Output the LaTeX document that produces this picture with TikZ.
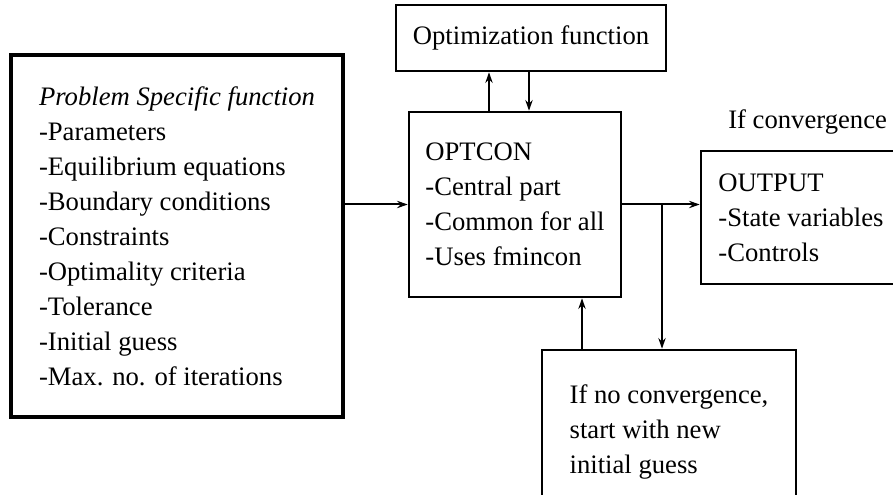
\documentclass[tikz,border=0pt]{standalone}
\usepackage{fontspec}
\setmainfont{Liberation Serif}
\usetikzlibrary{arrows.meta}
\tikzset{
  blk/.style={draw,line width=1.9pt,align=left,inner sep=0pt},
  arr/.style={line width=1.5pt,-{Stealth[length=8pt,width=5.5pt]}}
}
\begin{document}
\begin{tikzpicture}[x=0.75pt,y=-0.75pt,font=\fontsize{20}{26.25}\selectfont]
  \useasboundingbox (0,0) rectangle (893,495);
  \node[blk,line width=2.5pt,minimum width=249pt,minimum height=271.5pt] (spec) at (177,236)
    {\textit{Problem Specific function}\\-Parameters\\-Equilibrium equations\\-Boundary conditions\\-Constraints\\-Optimality criteria\\-Tolerance\\-Initial guess\\-Max. no. of iterations};
  \node[blk,minimum width=202.5pt,minimum height=49.5pt] (optfun) at (531,38) {Optimization function};
  \node[blk,minimum width=159pt,minimum height=138.75pt] (optcon) at (515,204.5) {OPTCON\\-Central part\\-Common for all\\-Uses fmincon};
  \node[blk,minimum width=150pt,minimum height=99.75pt] (output) at (801,217.5) {OUTPUT\\-State variables\\-Controls};
  \node[blk,minimum width=190.5pt,minimum height=123pt] (nocon) at (669,432) {If no convergence,\\start with new\\initial guess};
  \node[anchor=west,inner sep=0pt] (conv) at (728,122) {If convergence};
  % connections
  \draw[arr] (optcon.west -| spec.east) -- (optcon.west);
  \draw[arr] (optcon.east) -- (optcon.east -| output.west);
  \coordinate (br) at (662,204.5);
  \draw[arr] (br) -- (br |- nocon.north);
  \coordinate (fb) at (582,0);
  \draw[arr] (fb |- nocon.north) -- (fb |- optcon.south);
  \coordinate (up) at (489,0); \coordinate (dn) at (529,0);
  \draw[arr] (up |- optcon.north) -- (up |- optfun.south);
  \draw[arr] (dn |- optfun.south) -- (dn |- optcon.north);
\end{tikzpicture}
\end{document}
